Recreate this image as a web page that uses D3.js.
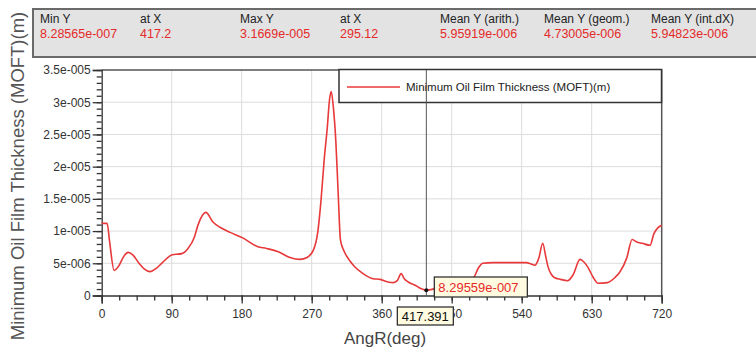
<!DOCTYPE html>
<html>
<head>
<meta charset="utf-8">
<script src="https://cdn.jsdelivr.net/npm/d3@7"></script>
<style>
  body { margin: 0; background: #fff; }
  svg { display: block; font-family: "Liberation Sans", Arial, sans-serif; }
</style>
</head>
<body>
<svg class="chart" width="756" height="352"></svg>
<script>

// angle (deg) and minimum oil film thickness (m)
const angR = [0, 7, 10, 16, 22, 28, 34, 40, 48, 55, 62, 70, 78, 90, 103, 111, 119, 124, 134, 143,
    152, 165, 182, 200, 212, 227, 242, 255, 264, 272, 278, 282, 286, 290, 293, 295.12, 298, 301, 304, 307,
    312, 319, 325, 336, 349, 358, 368, 375, 380, 385, 389, 394, 403, 410, 417.2, 425, 435, 450, 465, 478,
    484, 490, 503, 520, 546, 552, 557, 562, 567, 571, 574, 578, 582, 590, 599, 606, 615, 620, 625, 632,
    638, 650, 660, 666, 675, 682, 688, 695, 705, 710, 715, 720];

const moft = [1.12e-5, 1.12e-5, 8.5e-6, 3.9e-6, 4.6e-6, 6.0e-6, 6.7e-6, 6.3e-6, 5.0e-6, 4.1e-6, 3.7e-6, 4.2e-6, 5.1e-6, 6.3e-6, 6.5e-6, 7.3e-6, 9.0e-6, 1.1e-5, 1.29e-5, 1.14e-5,
    1.06e-5, 9.8e-6, 8.9e-6, 7.6e-6, 7.3e-6, 6.8e-6, 5.9e-6, 5.6e-6, 5.9e-6, 7.0e-6, 1.0e-5, 1.48e-5, 2.1e-5, 2.6e-5, 3.05e-5, 3.1669e-5, 2.9e-5, 2.4e-5, 1.6e-5, 8.6e-6,
    6.8e-6, 5.4e-6, 4.5e-6, 3.4e-6, 2.6e-6, 2.5e-6, 2.1e-6, 2.0e-6, 2.3e-6, 3.4e-6, 2.6e-6, 2.1e-6, 1.6e-6, 1.1e-6, 8.28565e-7, 9.5e-7, 1.6e-6, 2.2e-6, 2.6e-6, 2.8e-6,
    4.2e-6, 5.0e-6, 5.1e-6, 5.1e-6, 5.1e-6, 4.9e-6, 4.7e-6, 5.8e-6, 8.1e-6, 6.0e-6, 4.4e-6, 3.3e-6, 2.8e-6, 2.5e-6, 2.3e-6, 3.2e-6, 5.6e-6, 5.2e-6, 4.4e-6, 2.8e-6,
    1.9e-6, 2.0e-6, 2.8e-6, 3.6e-6, 5.8e-6, 8.7e-6, 8.3e-6, 8.1e-6, 7.8e-6, 9.6e-6, 1.05e-5, 1.09e-5];

const xTicks = [0, 90, 180, 270, 360, 450, 540, 630, 720];
const yTicks = [0, 5e-6, 1e-5, 1.5e-5, 2e-5, 2.5e-5, 3e-5, 3.5e-5];
const yTickLabels = ['0', '5e-006', '1e-005', '1.5e-005', '2e-005', '2.5e-005', '3e-005', '3.5e-005'];

// statistics header
const statNames  = ['Min Y', 'at X', 'Max Y', 'at X', 'Mean Y (arith.)', 'Mean Y (geom.)', 'Mean Y (int.dX)'];
const statValues = ['8.28565e-007', '417.2', '3.1669e-005', '295.12', '5.95919e-006', '4.73005e-006', '5.94823e-006'];

const seriesName = 'Minimum Oil Film Thickness (MOFT)(m)';
const cursorX = 417.391;
const cursorY = 8.29559e-7;
const cursorXLabel = '417.391';
const cursorYLabel = '8.29559e-007';

const main = {};

init();

function init() {

    const svg = d3.select('.chart');

    const plot = { left: 101.7, right: 661.7, top: 70, bottom: 295.5 };

    main.x = d3.scaleLinear().domain([0, 720]).range([plot.left, plot.right]);
    main.y = d3.scaleLinear().domain([0, 3.5e-5]).range([plot.bottom, plot.top]);

    const x = main.x, y = main.y;

    // stats box
    const stats = svg.append('g');
    stats.append('rect')
        .attr('x', 33).attr('y', 9).attr('width', 760).attr('height', 48)
        .attr('fill', '#e3e3e3').attr('stroke', '#6a6a6a').attr('stroke-width', 2);

    const statX = [40, 140, 240, 340, 440, 544, 651];
    stats.selectAll('text.name')
        .data(statNames)
        .join('text')
        .classed('name', true)
        .attr('x', (d, i) => statX[i]).attr('y', 23)
        .attr('font-size', 12).attr('fill', '#222')
        .text(d => d);
    stats.selectAll('text.val')
        .data(statValues)
        .join('text')
        .classed('val', true)
        .attr('x', (d, i) => statX[i]).attr('y', 38)
        .attr('font-size', 12.5).attr('fill', '#e52a2a')
        .text(d => d);

    // grid
    const grid = svg.append('g').attr('stroke', '#dcdcdc').attr('stroke-width', 1);
    grid.selectAll('line.v')
        .data(xTicks.slice(1, -1))
        .join('line')
        .attr('x1', d => x(d)).attr('x2', d => x(d))
        .attr('y1', plot.top).attr('y2', plot.bottom);
    grid.selectAll('line.h')
        .data(yTicks.slice(1, -1))
        .join('line')
        .attr('x1', plot.left).attr('x2', plot.right)
        .attr('y1', d => y(d)).attr('y2', d => y(d));

    // frame top / right
    svg.append('path')
        .attr('d', `M${plot.left},${plot.top}H${plot.right}V${plot.bottom}`)
        .attr('fill', 'none').attr('stroke', '#555').attr('stroke-width', 1.5);

    // y axis
    const yMinor = svg.append('g')
        .attr('transform', `translate(${plot.left},0)`)
        .call(d3.axisLeft(y).tickValues(d3.range(0, 35.5, 1).map(v => v * 1e-6)).tickSize(5).tickFormat(''));
    yMinor.select('.domain').remove();

    const yAxis = svg.append('g')
        .attr('transform', `translate(${plot.left},0)`)
        .call(d3.axisLeft(y).tickValues(yTicks).tickSize(9).tickPadding(2)
            .tickFormat((d, i) => yTickLabels[i]));
    yAxis.selectAll('text').attr('font-size', 12).attr('fill', '#333').attr('font-family', null);

    // x axis
    const xMinor = svg.append('g')
        .attr('transform', `translate(0,${plot.bottom})`)
        .call(d3.axisBottom(x).tickValues(d3.range(0, 721, 22.5)).tickSize(5).tickFormat(''));
    xMinor.select('.domain').remove();

    const xAxis = svg.append('g')
        .attr('transform', `translate(0,${plot.bottom})`)
        .call(d3.axisBottom(x).tickValues(xTicks).tickSize(8).tickPadding(6));
    xAxis.selectAll('text').attr('font-size', 12).attr('fill', '#333').attr('font-family', null);

    svg.selectAll('.domain, .tick line').attr('stroke', '#333').attr('stroke-width', 1.3);

    // axis titles
    svg.append('text')
        .attr('x', 385).attr('y', 344)
        .attr('text-anchor', 'middle')
        .attr('font-size', 17).attr('fill', '#444')
        .text('AngR(deg)');

    svg.append('text')
        .attr('transform', 'translate(24,176) rotate(-90)')
        .attr('text-anchor', 'middle')
        .attr('font-size', 18.5).attr('fill', '#555')
        .text(seriesName);

    // data line
    const line = d3.line()
        .x(d => x(d[0]))
        .y(d => y(d[1]))
        .curve(d3.curveMonotoneX);

    svg.append('path')
        .datum(d3.zip(angR, moft))
        .attr('d', line)
        .attr('fill', 'none')
        .attr('stroke', '#e8393a')
        .attr('stroke-width', 1.6);

    // legend
    const legend = svg.append('g');
    legend.append('rect')
        .attr('x', 339).attr('y', 69.5).attr('width', 322.5).attr('height', 33)
        .attr('fill', '#fff').attr('stroke', '#333').attr('stroke-width', 1.5);
    legend.append('line')
        .attr('x1', 347).attr('x2', 400).attr('y1', 87).attr('y2', 87)
        .attr('stroke', '#e8393a').attr('stroke-width', 1.6);
    legend.append('text')
        .attr('x', 406).attr('y', 91)
        .attr('font-size', 11.5).attr('fill', '#222')
        .text(seriesName);

    // cursor
    const cx = x(cursorX), cy = y(cursorY);
    svg.append('line')
        .attr('x1', cx).attr('x2', cx).attr('y1', plot.top).attr('y2', plot.bottom)
        .attr('stroke', '#555').attr('stroke-width', 1);
    svg.append('circle')
        .attr('cx', cx).attr('cy', cy).attr('r', 2).attr('fill', '#111');

    const yBox = svg.append('g').attr('transform', `translate(${cx + 8},277)`);
    yBox.append('rect')
        .attr('width', 93).attr('height', 20)
        .attr('fill', '#fffbe0').attr('stroke', '#333').attr('stroke-width', 1.3);
    yBox.append('text')
        .attr('x', 4).attr('y', 15)
        .attr('font-size', 13).attr('fill', '#e52a2a')
        .text(cursorYLabel);

    const xBox = svg.append('g').attr('transform', `translate(${cx - 29},307)`);
    xBox.append('rect')
        .attr('width', 56).attr('height', 18)
        .attr('fill', '#fffbe0').attr('stroke', '#333').attr('stroke-width', 1.3);
    xBox.append('text')
        .attr('x', 28).attr('y', 14)
        .attr('text-anchor', 'middle')
        .attr('font-size', 13).attr('fill', '#111')
        .text(cursorXLabel);

}

</script>
</body>
</html>
